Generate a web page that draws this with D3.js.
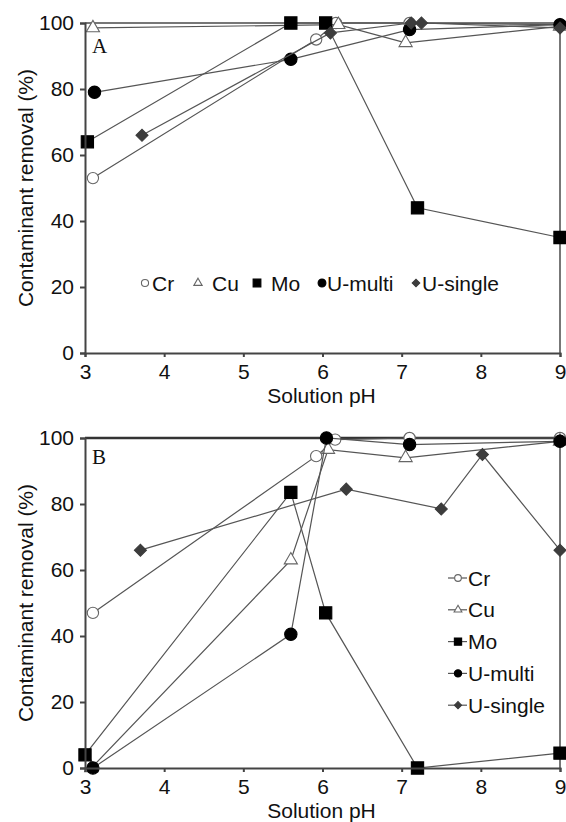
<!DOCTYPE html>
<html>
<head>
<meta charset="utf-8" />
<style>
  body { margin: 0; background: #fff; }
  text { font-family: "Liberation Sans", Arial, sans-serif; fill: #111; }
  .panel-label { font-family: "Liberation Serif", "Times New Roman", serif; font-size: 21px; }
  .axis text { font-size: 21px; }
  .axis path, .axis line { stroke: #444; stroke-width: 2; }
  .title { font-size: 21px; }
  .legend text { font-size: 21px; }
  .series-line { fill: none; stroke: #555; stroke-width: 1.2; }
</style>
</head>
<body>
<div id="chart"></div>
<script src="https://cdn.jsdelivr.net/npm/d3@7"></script>
<script>
// series names and tick labels
var seriesNames = ["Cr", "Cu", "Mo", "U-multi", "U-single"];
var xTicks = [3, 4, 5, 6, 7, 8, 9];
var yTicks = [0, 20, 40, 60, 80, 100];

// panel A
var crA_pH = [3.1, 5.92, 6.17, 7.1, 9];
var crA_val = [53, 95, 100, 100, 99.5];
var cuA_pH = [3.1, 6.2, 7.05, 9];
var cuA_val = [98.5, 99.5, 94, 99];
var moA_pH = [3.03, 5.6, 6.04, 7.2, 9];
var moA_val = [64, 100, 100, 44, 35];
var umA_pH = [3.12, 5.6, 7.1, 9];
var umA_val = [79, 89, 98, 99.5];
var usA_pH = [3.72, 6.1, 7.12, 7.25, 9];
var usA_val = [66, 97, 100, 100, 98.5];

// panel B
var crB_pH = [3.1, 5.92, 6.16, 7.1, 9];
var crB_val = [47, 94.5, 99.5, 100, 100];
var cuB_pH = [3.08, 5.6, 6.07, 7.05, 9];
var cuB_val = [0, 63, 96.5, 94, 99];
var moB_pH = [3.0, 5.6, 6.04, 7.2, 9];
var moB_val = [4, 83.5, 47, 0, 4.5];
var umB_pH = [3.1, 5.6, 6.05, 7.1, 9];
var umB_val = [0, 40.5, 100, 98, 99];
var usB_pH = [3.7, 6.3, 7.5, 8.02, 9];
var usB_val = [66, 84.5, 78.5, 95, 66];

function zipSeries(pH, vals) {
  return pH.map(function(p, i) { return { x: p, y: vals[i] }; });
}

var panels = [
  { label: "A", top: 23, bottom: 353, labelDy: 30, topStroke: "#777", topWidth: 2,
    series: [zipSeries(crA_pH, crA_val), zipSeries(cuA_pH, cuA_val), zipSeries(moA_pH, moA_val),
             zipSeries(umA_pH, umA_val), zipSeries(usA_pH, usA_val)] },
  { label: "B", top: 438, bottom: 768, labelDy: 26, topStroke: "#333", topWidth: 2.5,
    series: [zipSeries(crB_pH, crB_val), zipSeries(cuB_pH, cuB_val), zipSeries(moB_pH, moB_val),
             zipSeries(umB_pH, umB_val), zipSeries(usB_pH, usB_val)] }
];

var markerStyle = {
  "Cr":       { type: d3.symbolCircle, size: 100, fill: "#fff", stroke: "#666", rot: 0 },
  "Cu":       { type: d3.symbolTriangle, size: 75, fill: "#fff", stroke: "#666", rot: 0 },
  "Mo":       { type: d3.symbolSquare, size: 150, fill: "#000", stroke: "#000", rot: 0 },
  "U-multi":  { type: d3.symbolCircle, size: 120, fill: "#000", stroke: "#000", rot: 0 },
  "U-single": { type: d3.symbolSquare, size: 72, fill: "#3c3c3c", stroke: "#3c3c3c", rot: 45 }
};

var width = 566, height = 822;
var left = 85, right = 560;

var svg = d3.select("#chart").append("svg")
  .attr("width", width).attr("height", height);

var x = d3.scaleLinear().domain([3, 9]).range([left, right]);

function marker(g, name, scale) {
  var st = markerStyle[name];
  g.append("path")
    .attr("d", d3.symbol().type(st.type).size(st.size * scale)())
    .attr("transform", "rotate(" + st.rot + ")")
    .attr("fill", st.fill)
    .attr("stroke", st.stroke)
    .attr("stroke-width", 1.1);
}

panels.forEach(function(p, pi) {
  var y = d3.scaleLinear().domain([0, 100]).range([p.bottom, p.top]);
  var g = svg.append("g");

  // plot frame: right side and top
  g.append("line")
    .attr("x1", right).attr("x2", right).attr("y1", p.top).attr("y2", p.bottom)
    .attr("stroke", "#777").attr("stroke-width", 2);
  g.append("line")
    .attr("x1", left).attr("x2", right).attr("y1", p.top).attr("y2", p.top)
    .attr("stroke", p.topStroke).attr("stroke-width", p.topWidth);

  var line = d3.line().x(function(d) { return x(d.x); }).y(function(d) { return y(d.y); });

  p.series.forEach(function(data, si) {
    var name = seriesNames[si];
    g.append("path").attr("class", "series-line").attr("d", line(data));
    data.forEach(function(d) {
      var m = g.append("g").attr("transform", "translate(" + x(d.x) + "," + y(d.y) + ")");
      marker(m, name, 1);
    });
  });

  // axes
  g.append("g").attr("class", "axis")
    .attr("transform", "translate(0," + p.bottom + ")")
    .call(d3.axisBottom(x).tickValues(xTicks).tickSize(4).tickPadding(7).tickFormat(d3.format("d")));
  g.append("g").attr("class", "axis")
    .attr("transform", "translate(" + left + ",0)")
    .call(d3.axisLeft(y).tickValues(yTicks).tickSize(5).tickPadding(6).tickFormat(d3.format("d")));

  g.append("text").attr("class", "panel-label")
    .attr("x", 92).attr("y", p.top + p.labelDy).text(p.label);

  g.append("text").attr("class", "title")
    .attr("text-anchor", "middle")
    .attr("transform", "translate(33," + ((p.top + p.bottom) / 2) + ") rotate(-90)")
    .text("Contaminant removal (%)");
  g.append("text").attr("class", "title")
    .attr("text-anchor", "middle")
    .attr("x", (left + right) / 2 - 1).attr("y", p.bottom + 50)
    .text("Solution pH");

  // legends
  var lg = g.append("g").attr("class", "legend");
  if (pi === 0) {
    var items = [
      { mx: 145, tx: 152 }, { mx: 198, tx: 212 }, { mx: 257, tx: 271 },
      { mx: 322, tx: 327 }, { mx: 416, tx: 422 }
    ];
    var ly = 283;
    seriesNames.forEach(function(name, i) {
      var m = lg.append("g").attr("transform", "translate(" + items[i].mx + "," + ly + ")");
      marker(m, name, 0.4);
      lg.append("text").attr("x", items[i].tx).attr("y", ly).attr("dy", "0.36em").text(name);
    });
  } else {
    seriesNames.forEach(function(name, i) {
      var ly = 578 + i * 31.8;
      lg.append("line").attr("x1", 448).attr("x2", 467).attr("y1", ly).attr("y2", ly)
        .attr("stroke", "#555").attr("stroke-width", 1.2);
      var m = lg.append("g").attr("transform", "translate(458," + ly + ")");
      marker(m, name, 0.35);
      lg.append("text").attr("x", 468).attr("y", ly).attr("dy", "0.36em").text(name);
    });
  }
});
</script>
</body>
</html>
